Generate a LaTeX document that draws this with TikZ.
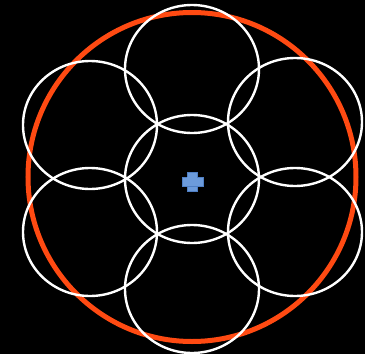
\documentclass[tikz,border=0pt]{standalone}
\begin{document}
\begin{tikzpicture}[x=1pt,y=-1pt,
  ring/.style={draw=white,line width=2.4pt},
  outer/.style={draw=orange1,line width=5pt},
  plusarm/.style={fill=plusblue,draw=plusedge,line width=0.6pt}]
\definecolor{orange1}{HTML}{FF4A12}
\definecolor{plusblue}{HTML}{6C9BDB}
\definecolor{plusedge}{HTML}{4F7FC4}
\fill[black] (0,0) rectangle (365,354);
\useasboundingbox (0,0) rectangle (365,354);
\draw[outer] (192,177) ellipse [x radius=164, y radius=164.5];
\draw[ring] (192,179) ellipse [x radius=67, y radius=64];
\draw[ring] (192,69) ellipse [x radius=67, y radius=64];
\draw[ring] (192,289) ellipse [x radius=67, y radius=64];
\draw[ring] (90,125) ellipse [x radius=67, y radius=64];
\draw[ring] (295,122) ellipse [x radius=67, y radius=64];
\draw[ring] (90,232) ellipse [x radius=67, y radius=64];
\draw[ring] (295,232) ellipse [x radius=67, y radius=64];
\path[plusarm] (187,172) rectangle (197,191);
\path[plusarm] (182,177) rectangle (203,186);
\fill[plusblue] (187.4,177.4) rectangle (196.6,185.6);
\end{tikzpicture}
\end{document}
